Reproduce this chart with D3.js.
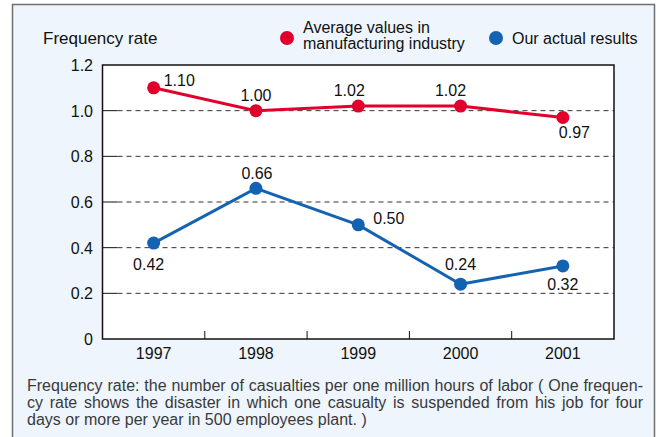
<!DOCTYPE html>
<html lang="en">
<head>
    <meta charset="UTF-8">
    <title>Frequency rate</title>
    <script src="https://cdn.jsdelivr.net/npm/d3@7"></script>
    <style>
        body { margin: 0; background: #fff; font-family: "Liberation Sans", Arial, sans-serif; }
        #wrap { position: relative; width: 661px; height: 437px; overflow: hidden; }
        #chart { position: absolute; left: 0; top: 0; }
        #note { position: absolute; left: 27px; top: 377px; width: 616px; font-size: 16px; color: #3a3a3a; line-height: 17px; }
        #note div { white-space: nowrap; }
        #note .just { text-align: justify; text-align-last: justify; white-space: normal; }
    </style>
</head>
<body>
<div id="wrap">
    <svg id="chart" width="661" height="437"></svg>
    <div id="note">
        <div class="just">Frequency rate: the number of casualties per one million hours of labor ( One frequen-</div>
        <div class="just">cy rate shows the disaster in which one casualty is suspended from his job for four</div>
        <div>days or more per year in 500 employees plant. )</div>
    </div>
</div>
<script>
    var years = ["1997", "1998", "1999", "2000", "2001"];
    var industryValues = [1.10, 1.00, 1.02, 1.02, 0.97];
    var ourValues = [0.42, 0.66, 0.50, 0.24, 0.32];
    var yTicks = [0, 0.2, 0.4, 0.6, 0.8, 1.0, 1.2];
    var seriesNames = ["Average values in|manufacturing industry", "Our actual results"];

    // label placement per point: dx, dy, anchor
    var industryLabelPos = [[10, -2, "start"], [0, -10, "middle"], [-9, -10, "middle"], [-10, -10, "middle"], [-4, 20, "start"]];
    var ourLabelPos = [[-5, 27, "middle"], [1, -9, "middle"], [15, -1, "start"], [0, -14, "middle"], [0, 24, "middle"]];

    var red = "#e0002b";
    var blue = "#1463b2";
    var fs = 16;

    var svg = d3.select("#chart");
    var plotL = 102.5, plotR = 614, plotT = 65, plotB = 339;

    // outer panel
    svg.append("rect")
        .attr("x", 12.5).attr("y", 4.5)
        .attr("width", 642).attr("height", 450)
        .attr("fill", "#eef5fc")
        .attr("stroke", "#6f6f6f")
        .attr("stroke-width", 1.5);

    var x = d3.scaleBand().domain(years).range([plotL, plotR]);
    var y = d3.scaleLinear().domain([0, 1.2]).range([plotB, plotT]);

    // plot area
    svg.append("rect")
        .attr("x", plotL).attr("y", plotT)
        .attr("width", plotR - plotL).attr("height", plotB - plotT)
        .attr("fill", "#fff");

    // grid lines
    var grid = svg.append("g");
    yTicks.filter(function (d) { return d > 0 && d < 1.2; }).forEach(function (d) {
        grid.append("line")
            .attr("x1", plotL + 15).attr("x2", plotR)
            .attr("y1", y(d)).attr("y2", y(d))
            .attr("stroke", "#333")
            .attr("stroke-width", 1)
            .attr("stroke-dasharray", "5,4");
        grid.append("line")
            .attr("x1", plotL).attr("x2", plotL + 15)
            .attr("y1", y(d)).attr("y2", y(d))
            .attr("stroke", "#111")
            .attr("stroke-width", 1);
    });

    // x category separators
    years.slice(1).forEach(function (d) {
        svg.append("line")
            .attr("x1", x(d)).attr("x2", x(d))
            .attr("y1", plotB).attr("y2", plotB - 8)
            .attr("stroke", "#111")
            .attr("stroke-width", 1);
    });

    svg.append("rect")
        .attr("x", plotL).attr("y", plotT)
        .attr("width", plotR - plotL).attr("height", plotB - plotT)
        .attr("fill", "none")
        .attr("stroke", "#111")
        .attr("stroke-width", 1.5);

    // y labels
    svg.append("g").selectAll("text")
        .data(yTicks)
        .enter().append("text")
        .attr("x", 93)
        .attr("y", function (d) { return y(d) + 6; })
        .attr("text-anchor", "end")
        .attr("font-size", fs)
        .attr("fill", "#111")
        .text(function (d) { return d === 0 ? "0" : d.toFixed(1); });

    // x labels
    svg.append("g").selectAll("text")
        .data(years)
        .enter().append("text")
        .attr("x", function (d) { return x(d) + x.bandwidth() / 2; })
        .attr("y", 359)
        .attr("text-anchor", "middle")
        .attr("font-size", fs)
        .attr("fill", "#111")
        .text(function (d) { return d; });

    svg.append("text")
        .attr("x", 43).attr("y", 44)
        .attr("font-size", 17)
        .attr("fill", "#111")
        .text("Frequency rate");

    function drawSeries(values, color, pos) {
        var line = d3.line()
            .x(function (d, i) { return x(years[i]) + x.bandwidth() / 2; })
            .y(function (d) { return y(d); });
        svg.append("path")
            .datum(values)
            .attr("d", line)
            .attr("fill", "none")
            .attr("stroke", color)
            .attr("stroke-width", 3);
        svg.append("g").selectAll("circle")
            .data(values)
            .enter().append("circle")
            .attr("cx", function (d, i) { return x(years[i]) + x.bandwidth() / 2; })
            .attr("cy", function (d) { return y(d); })
            .attr("r", 6.5)
            .attr("fill", color);
        svg.append("g").selectAll("text")
            .data(values)
            .enter().append("text")
            .attr("x", function (d, i) { return x(years[i]) + x.bandwidth() / 2 + pos[i][0]; })
            .attr("y", function (d, i) { return y(d) + pos[i][1]; })
            .attr("text-anchor", function (d, i) { return pos[i][2]; })
            .attr("font-size", fs)
            .attr("fill", "#111")
            .text(function (d) { return d.toFixed(2); });
    }

    drawSeries(industryValues, red, industryLabelPos);
    drawSeries(ourValues, blue, ourLabelPos);

    // legend
    svg.append("circle").attr("cx", 287).attr("cy", 38).attr("r", 7).attr("fill", red);
    var lt = svg.append("text").attr("x", 303).attr("y", 33).attr("font-size", fs).attr("fill", "#111");
    seriesNames[0].split("|").forEach(function (s, i) {
        lt.append("tspan").attr("x", 303).attr("dy", i === 0 ? 0 : 16).text(s);
    });
    svg.append("circle").attr("cx", 496).attr("cy", 38).attr("r", 7).attr("fill", blue);
    svg.append("text").attr("x", 512).attr("y", 44).attr("font-size", fs).attr("fill", "#111").text(seriesNames[1]);
</script>
</body>
</html>
